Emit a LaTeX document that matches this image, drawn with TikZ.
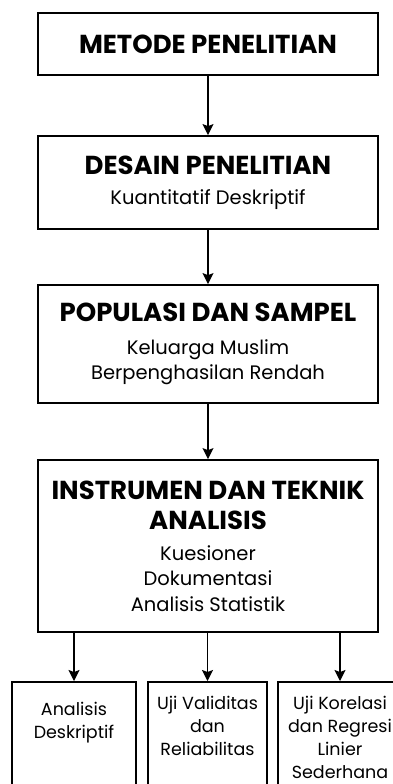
\documentclass[tikz,border=0pt]{standalone}
\usepackage{fontspec}
\setmainfont{Poppins}[Ligatures=NoCommon]
\usetikzlibrary{arrows.meta}
\newcommand\judul{\fontsize{26}{31}\selectfont\bfseries}
\newcommand\isi{\fontsize{19.5}{25.3}\selectfont}
\newcommand\kecil{\fontsize{17.5}{23}\selectfont}
\begin{document}
\begin{tikzpicture}[x=1pt,y=-1pt,
	kotak/.style={draw,line width=1.8pt,minimum width=340pt,inner sep=0pt,align=center,font=\isi},
	hasil/.style={draw,line width=1.8pt,anchor=north,inner xsep=0pt,inner ysep=14pt},
	panah/.style={line width=1.4pt,-{Stealth[length=11pt,width=11pt,inset=2pt]}}]
	\useasboundingbox (0,0) rectangle (393,784);
	\clip (0,0) rectangle (393,784);
	\node[kotak,minimum height=62pt] (metode) at (208,44) {{\judul METODE PENELITIAN}};
	\node[kotak,minimum height=93pt] (desain) at (208,182.5) {{\judul DESAIN PENELITIAN}\\[5pt]Kuantitatif Deskriptif};
	\node[kotak,minimum height=118pt] (populasi) at (208,344) {{\judul POPULASI DAN SAMPEL}\\[7pt]Keluarga Muslim\\Berpenghasilan Rendah};
	\node[kotak,minimum height=172pt] (instrumen) at (208,546) {{\judul INSTRUMEN DAN TEKNIK}\\[5pt]{\judul ANALISIS}\\[6pt]Kuesioner\\Dokumentasi\\Analisis Statistik};
	\node[hasil,inner ysep=20pt] (a) at (74,681) {\parbox[t][150pt][t]{124pt}{\centering\kecil Analisis\\Deskriptif}};
	\node[hasil] (b) at (207.5,681) {\parbox[t][150pt][t]{119pt}{\centering\kecil Uji Validitas\\dan\\Reliabilitas}};
	\node[hasil] (c) at (340,681) {\parbox[t][150pt][t]{124pt}{\centering\kecil Uji Korelasi\\dan Regresi\\Linier\\Sederhana}};
	\draw[panah] (metode) -- (desain);
	\draw[panah] (desain) -- (populasi);
	\draw[panah] (populasi) -- (instrumen);
	\foreach \k in {a,b,c}
		\draw[panah] (instrumen.south -| \k.north) -- (\k.north);
\end{tikzpicture}
\end{document}
